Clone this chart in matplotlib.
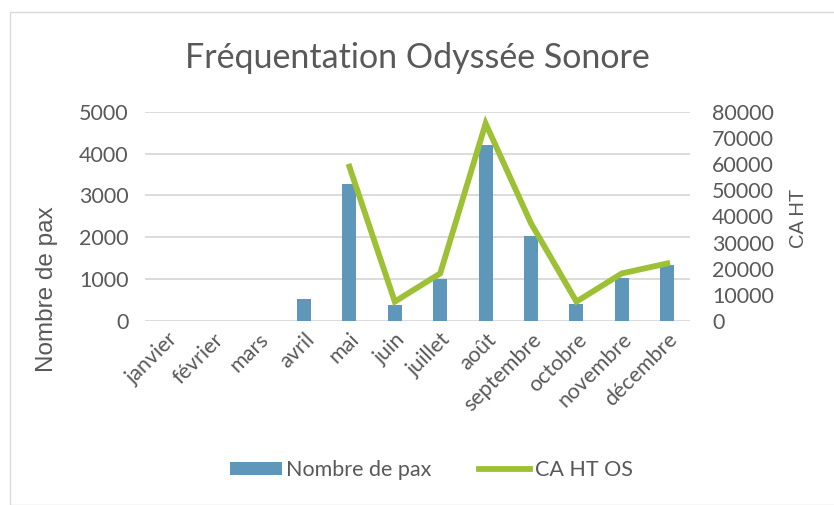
import numpy as np
import matplotlib.pyplot as plt
from matplotlib.patches import Rectangle

plt.rcParams['font.family'] = ['Lato', 'DejaVu Sans']

mois = ['janvier', 'février', 'mars', 'avril', 'mai', 'juin', 'juillet',
        'août', 'septembre', 'octobre', 'novembre', 'décembre']
pax = [0, 0, 0, 520, 3280, 390, 1010, 4210, 2030, 400, 1020, 1340]
ca_ht = [np.nan, np.nan, np.nan, np.nan, 59000, 7400, 18200, 75500,
         37300, 7400, 18200, 22000]

GRIS = '#595959'
BLEU = '#5E97BA'
VERT = '#9DC034'

fig = plt.figure(figsize=(8.34, 5.05), dpi=100)
fig.patches.append(Rectangle((10/834, 0), 1, 1 - 12/505, transform=fig.transFigure,
                             fill=False, edgecolor='#D9D9D9', linewidth=1))

ax = fig.add_axes([145/834, 1 - 321/505, 545/834, (321 - 111.7)/505])
x = np.arange(len(mois))
ax.bar(x, pax, width=0.31, color=BLEU, zorder=3, label='Nombre de pax')
ax.set_ylim(0, 5000)
ax.set_yticks(np.arange(0, 5001, 1000))
ax.set_xlim(-0.5, len(mois) - 0.5)
ax.set_xticks(x)
ax.set_xticklabels(mois, rotation=45, ha='right', rotation_mode='anchor')
ax.grid(axis='y', color='#D9D9D9', linewidth=1.3, zorder=0)
for s in ax.spines.values():
    s.set_visible(False)
ax.tick_params(length=0, labelsize=15.5, colors=GRIS, pad=12)
ax.tick_params(axis='x', pad=6)

ax2 = ax.twinx()
ax2.plot(x, ca_ht, color=VERT, linewidth=4.2, solid_joinstyle='miter', label='CA HT OS', zorder=4)
ax2.set_ylim(0, 80000)
ax2.set_yticks(np.arange(0, 80001, 10000))
for s in ax2.spines.values():
    s.set_visible(False)
ax2.tick_params(length=0, labelsize=15.5, colors=GRIS, pad=16)

fig.text(0.5, 1 - 58/505, 'Fréquentation Odyssée Sonore', ha='center', va='center',
         fontsize=24.5, color=GRIS)
fig.text(47/834, 1 - 289/505, 'Nombre de pax', rotation=90, ha='center', va='center',
         fontsize=17.5, color=GRIS, family='Liberation Sans')
fig.text(799/834, 1 - 218/505, 'CA HT', rotation=90, ha='center', va='center',
         fontsize=14.5, color=GRIS, family='Liberation Sans')

h1, l1 = ax.get_legend_handles_labels()
h2, l2 = ax2.get_legend_handles_labels()
fig.legend(h1 + h2, l1 + l2, loc='center', bbox_to_anchor=(0.517, 1 - 470/505), ncol=2,
           frameon=False, fontsize=15.5, labelcolor=GRIS, handlelength=2.4,
           handleheight=0.6, handletextpad=0.2, columnspacing=2.2)

fig.savefig('out.png', dpi=100)
